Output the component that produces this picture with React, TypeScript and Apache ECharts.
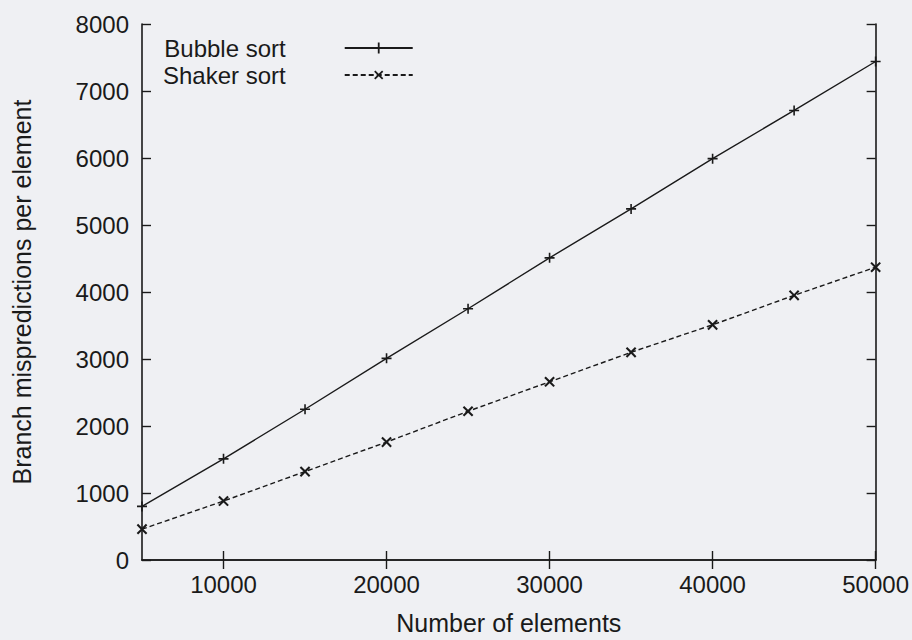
import React, { useEffect, useRef } from "react";
import * as echarts from "echarts";

const sizes = [5000, 10000, 15000, 20000, 25000, 30000, 35000, 40000, 45000, 50000];
const bubbleSort = [800, 1510, 2250, 3010, 3750, 4510, 5240, 5990, 6710, 7440];
const shakerSort = [460, 880, 1320, 1760, 2220, 2660, 3100, 3510, 3950, 4370];
const xTicks = [10000, 20000, 30000, 40000, 50000];
const seriesNames = ["Bubble sort", "Shaker sort"];

const PLUS = "path://M4.2,0H5.8V4.2H10V5.8H5.8V10H4.2V5.8H0V4.2H4.2Z";
const FONT = "'Liberation Sans', Arial, Helvetica, sans-serif";
const INK = "#1a1a1a";
const plain = (v: number) => String(v);

export default function App() {
  const ref = useRef<HTMLDivElement>(null);
  useEffect(() => {
    document.body.style.margin = "0";
    const chart = echarts.init(ref.current!, null, { renderer: "svg" });
    const axisLine = { show: true, lineStyle: { color: INK, width: 1.6 } };
    const tick = { show: true, inside: true, length: 9, lineStyle: { color: INK, width: 1.4 } };
    chart.setOption({
      animation: false,
      backgroundColor: "#eff0f3",
      textStyle: { fontFamily: FONT },
      grid: { left: 142, right: 36, top: 24, bottom: 78 },
      legend: {
        orient: "vertical",
        left: 158,
        top: 31,
        align: "right",
        itemWidth: 68,
        itemHeight: 14,
        itemGap: 3,
        textStyle: { fontSize: 24, color: INK, fontFamily: FONT, lineHeight: 23, padding: [0, 54, 0, 0] },
        data: seriesNames,
      },
      xAxis: [
        {
          type: "value",
          min: 5000,
          max: 50000,
          name: "Number of elements",
          nameLocation: "middle",
          nameGap: 50,
          nameTextStyle: { fontSize: 25, color: INK, fontFamily: FONT },
          axisLine,
          axisTick: { ...tick, customValues: xTicks },
          axisLabel: { customValues: xTicks, formatter: plain, fontSize: 24, color: INK, margin: 12, fontFamily: FONT },
          splitLine: { show: false },
        },
        {
          type: "value",
          position: "top",
          min: 5000,
          max: 50000,
          axisLine,
          axisTick: { ...tick, customValues: xTicks },
          axisLabel: { show: false },
          splitLine: { show: false },
        },
      ],
      yAxis: [
        {
          type: "value",
          min: 0,
          max: 8000,
          interval: 1000,
          name: "Branch mispredictions per element",
          nameLocation: "middle",
          nameGap: 108,
          nameTextStyle: { fontSize: 25, color: INK, fontFamily: FONT },
          axisLine,
          axisTick: tick,
          axisLabel: { formatter: plain, fontSize: 24, color: INK, margin: 13, fontFamily: FONT },
          splitLine: { show: false },
        },
        {
          type: "value",
          position: "right",
          min: 0,
          max: 8000,
          interval: 1000,
          axisLine,
          axisTick: tick,
          axisLabel: { show: false },
          splitLine: { show: false },
        },
      ],
      series: [
        {
          name: seriesNames[0],
          type: "line",
          data: sizes.map((x, i) => [x, bubbleSort[i]]),
          symbol: PLUS,
          symbolSize: 10,
          showSymbol: true,
          lineStyle: { color: INK, width: 1.4, type: "solid" },
          itemStyle: { color: INK },
        },
        {
          name: seriesNames[1],
          type: "line",
          data: sizes.map((x, i) => [x, shakerSort[i]]),
          symbol: PLUS,
          symbolSize: 13,
          symbolRotate: 45,
          showSymbol: true,
          lineStyle: { color: INK, width: 1.4, type: [5, 3] },
          itemStyle: { color: INK },
        },
      ],
    });
    return () => chart.dispose();
  }, []);
  return <div ref={ref} style={{ width: 912, height: 640 }} />;
}
